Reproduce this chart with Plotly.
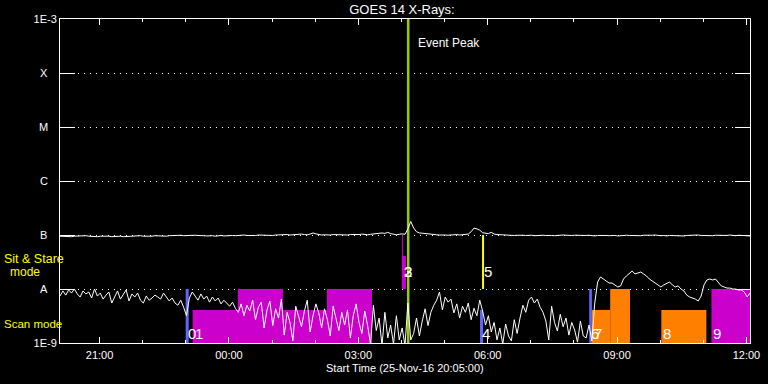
import plotly.graph_objects as go
import pandas as pd
import numpy as np

# ---------------- data ----------------
t_start = "2016-11-25 20:05:00"
t_end = "2016-11-26 12:05:00"
times = pd.date_range(t_start, t_end, freq="4min")   # GOES 4-minute cadence, 241 samples

# 1-8 A channel, units of 1e-9 W/m^2
long_nw = [
    95, 94, 96, 95, 93, 95, 96, 94, 95, 97,
    95, 94, 96, 93, 95, 96, 94, 95, 93, 94,
    96, 95, 93, 94, 95, 96, 94, 95, 97, 95,
    94, 96, 95, 97, 96, 94, 96, 95, 97, 98,
    96, 97, 99, 97, 98, 96, 97, 99, 98, 96,
    97, 96, 98, 97, 95, 97, 98, 96, 97, 99,
    98, 97, 99, 98, 100, 98, 97, 99, 98, 100,
    99, 98, 100, 99, 98, 100, 101, 99, 100, 102,
    100, 101, 103, 105, 104, 102, 101, 104, 109, 105,
    102, 100, 101, 99, 100, 102, 101, 100, 102, 101,
    100, 102, 101, 103, 102, 104, 102, 101, 103, 105,
    104, 106, 109, 107, 112, 106, 103, 101, 103, 105,
    103, 130, 178, 135, 115, 109, 108, 106, 104, 103,
    102, 101, 100, 101, 100, 99, 101, 100, 102, 100,
    101, 102, 104, 115, 134, 130, 123, 110, 108, 106,
    112, 104, 102, 101, 100, 101, 99, 100, 98, 99,
    100, 99, 98, 100, 99, 97, 98, 100, 99, 98,
    99, 98, 97, 99, 98, 100, 99, 97, 98, 99,
    98, 99, 97, 98, 99, 97, 96, 98, 99, 97,
    98, 97, 99, 98, 96, 98, 97, 99, 98, 97,
    99, 98, 97, 99, 98, 97, 99, 100, 98, 97,
    98, 96, 98, 97, 99, 98, 97, 96, 98, 99,
    97, 98, 100, 98, 97, 99, 98, 97, 99, 98,
    97, 99, 98, 100, 98, 97, 99, 98, 97, 98,
    96,
]

# 0.5-4 A channel, units of 1e-9 W/m^2
short_nw = [
    7.4, 9.2, 7.7, 9.6, 8.4, 10.0, 8.1, 7.1, 9.2, 8.1,
    8.8, 6.8, 10.0, 7.4, 8.4, 6.5, 7.7, 8.8, 5.5, 7.4,
    9.2, 6.5, 7.7, 9.6, 6.0, 8.1, 7.1, 8.4, 6.2, 5.5,
    7.4, 6.2, 6.8, 7.7, 7.1, 6.5, 8.4, 7.1, 6.0, 6.8,
    5.5, 5.0, 6.2, 4.6, 3.2, 6.8, 8.8, 7.4, 6.2, 8.1,
    6.5, 7.4, 5.7, 7.1, 6.0, 6.8, 5.3, 6.2, 5.5, 4.8,
    5.7, 4.4, 3.7, 5.3, 3.2, 5.0, 3.9, 6.2, 2.7, 4.6,
    5.7, 1.9, 4.1, 6.0, 2.1, 4.3, 2.9, 6.5, 1.4, 3.7,
    2.4, 1.1, 4.8, 2.9, 2.0, 3.9, 6.2, 1.6, 3.2, 5.3,
    3.6, 1.9, 4.3, 2.7, 1.35, 4.8, 2.9, 1.7, 3.7, 2.15,
    4.1, 1.24, 3.2, 5.3, 2.4, 1.5, 3.9, 2.1, 0.95, 5.0,
    1.7, 2.9, 0.9, 3.7, 1.24, 2.15, 0.95, 3.2, 1.14, 1.9,
    0.9, 5.5, 1.14, 1.5, 2.9, 1.35, 2.55, 4.3, 2.1, 3.7,
    5.0, 6.2, 8.8, 4.1, 7.1, 5.7, 6.5, 3.6, 5.3, 2.9,
    4.8, 3.7, 5.5, 2.7, 4.4, 3.2, 6.2, 3.9, 2.15, 3.2,
    1.6, 2.4, 1.14, 1.9, 0.95, 2.25, 1.35, 1.09, 2.7, 1.5,
    2.9, 5.0, 3.7, 6.2, 7.1, 5.5, 6.5, 4.6, 3.7, 2.55,
    1.14, 4.8, 2.4, 1.67, 3.4, 2.0, 2.9, 1.4, 2.4, 1.74,
    1.04, 2.55, 1.35, 1.24, 2.15, 1.09, 5.5, 13.5, 16.7, 15.3,
    14.1, 12.9, 12.9, 11.9, 10.9, 11.4, 15.3, 17.4, 19.0, 21.5,
    19.0, 19.8, 20.6, 19.0, 17.4, 15.3, 14.1, 12.9, 11.9, 10.9,
    11.9, 12.9, 13.5, 11.9, 10.9, 11.4, 10.0, 9.2, 7.7, 7.1,
    6.8, 6.5, 6.0, 7.4, 11.9, 14.7, 15.3, 14.7, 15.3, 13.5,
    11.4, 10.9, 10.4, 10.4, 10.0, 10.0, 9.6, 9.6, 8.8, 7.1,
    8.4,
]

# observation blocks (rectangles in time x flux)
rect_start = ["2016-11-25 22:59:50", "2016-11-25 23:09:36", "2016-11-26 00:12:24",
              "2016-11-26 02:16:18", "2016-11-26 04:00:42", "2016-11-26 04:00:42",
              "2016-11-26 04:07:42", "2016-11-26 05:49:24", "2016-11-26 05:52:12",
              "2016-11-26 08:21:18", "2016-11-26 08:25:00", "2016-11-26 08:50:30",
              "2016-11-26 10:01:36", "2016-11-26 11:11:18"]
rect_end = ["2016-11-25 23:04:00", "2016-11-26 03:19:06", "2016-11-26 01:15:06",
            "2016-11-26 03:19:06", "2016-11-26 04:02:06", "2016-11-26 04:06:18",
            "2016-11-26 04:11:12", "2016-11-26 05:53:36", "2016-11-26 05:55:00",
            "2016-11-26 08:25:00", "2016-11-26 08:50:30", "2016-11-26 09:18:00",
            "2016-11-26 11:04:18", "2016-11-26 12:14:00"]
rect_lo = [1e-9, 1e-9, 1e-9, 1e-9, 1e-8, 1e-8, 1e-9, 1e-9, 1e-8, 1e-9, 1e-9, 1e-9, 1e-9, 1e-9]
rect_hi = [1e-8, 4.1e-9, 1e-8, 1e-8, 1e-7, 4.1e-8, 1e-3, 4.1e-9, 1e-7, 1e-8, 4.1e-9, 1e-8, 4.1e-9, 1e-8]
rect_color = ["#6464ff", "#cc00cc", "#cc00cc", "#cc00cc", "#cc00cc", "#cc00cc", "#99cc00",
              "#6464ff", "#ffff00", "#6464ff", "#ff8000", "#ff8000", "#ff8000", "#cc00cc"]

label_text = ["0", "1", "2", "3", "4", "5", "6", "7", "8", "9"]
label_time = ["2016-11-25 22:59:50", "2016-11-25 23:09:36", "2016-11-26 04:00:42",
              "2016-11-26 04:00:42", "2016-11-26 05:49:24", "2016-11-26 05:52:12",
              "2016-11-26 08:21:18", "2016-11-26 08:25:00", "2016-11-26 10:01:36",
              "2016-11-26 11:11:18"]
label_level = [1.53e-9, 1.53e-9, 2.1e-8, 2.1e-8, 1.53e-9, 2.1e-8, 1.53e-9, 1.53e-9, 1.53e-9, 1.53e-9]

event_peak_time = "2016-11-26 04:09:00"

level_vals = [1e-9, 1e-8, 1e-7, 1e-6, 1e-5, 1e-4, 1e-3]
level_text = ["1E-9", "A", "B", "C", "M", "X", "1E-3"]

# ---------------- figure ----------------
FONT = "Liberation Sans, Arial, DejaVu Sans"
fig = go.Figure()

for s, e, lo, hi, c in zip(rect_start, rect_end, rect_lo, rect_hi, rect_color):
    fig.add_trace(go.Scatter(x=[s, s, e, e, s], y=[lo, hi, hi, lo, lo], mode="lines",
                             fill="toself", fillcolor=c, line=dict(width=0),
                             hoverinfo="skip", showlegend=False))

scale = 1e-9
fig.add_trace(go.Scatter(x=times, y=[v * scale for v in long_nw], mode="lines",
                         line=dict(color="white", width=1), showlegend=False))
fig.add_trace(go.Scatter(x=times, y=[v * scale for v in short_nw], mode="lines",
                         line=dict(color="white", width=1), showlegend=False))

ann = []
for txt, t, lv in zip(label_text, label_time, label_level):
    ann.append(dict(x=t, y=np.log10(lv), xref="x", yref="y", text=txt, showarrow=False,
                    xanchor="left", yanchor="middle", font=dict(size=15, color="white", family=FONT)))

ann.append(dict(x=event_peak_time, y=np.log10(3.6e-4), xref="x", yref="y", text="Event Peak",
                showarrow=False, xanchor="left", yanchor="middle", xshift=8,
                font=dict(size=12, color="white", family=FONT)))

for v, txt in zip(level_vals[1:-1], level_text[1:-1]):
    ann.append(dict(x=-0.0232, y=np.log10(v), xref="paper", yref="y", text=txt, showarrow=False,
                    xanchor="center", yanchor="middle", font=dict(size=11, color="white", family=FONT)))

ann.append(dict(x=-0.0841, y=-7.444, xref="paper", yref="y", text="Sit & Stare", showarrow=False,
                xanchor="left", yanchor="middle", font=dict(size=12.5, color="#ffff00", family=FONT)))
ann.append(dict(x=-0.0514, y=-7.685, xref="paper", yref="y", text="mode", showarrow=False,
                xanchor="center", yanchor="middle", font=dict(size=12, color="#ffff00", family=FONT)))
ann.append(dict(x=-0.0841, y=-8.648, xref="paper", yref="y", text="Scan mode", showarrow=False,
                xanchor="left", yanchor="middle", font=dict(size=11.5, color="#ffff00", family=FONT)))
ann.append(dict(x=0.5, y=-0.0772, xref="paper", yref="paper", text="Start Time (25-Nov-16 20:05:00)",
                showarrow=False, xanchor="center", yanchor="middle",
                font=dict(size=11, color="white", family=FONT)))

fig.update_layout(
    template="none",
    width=768, height=384,
    margin=dict(l=60, r=18, t=19, b=41, pad=0, autoexpand=False),
    paper_bgcolor="black", plot_bgcolor="black",
    font=dict(family=FONT, size=11, color="white"),
    title=dict(text="GOES 14 X-Rays:", x=402 / 768, xref="container", xanchor="center",
               y=1 - 9 / 384, yref="container", yanchor="middle",
               font=dict(size=13, color="white", family=FONT)),
    annotations=ann,
    showlegend=False,
)

fig.update_xaxes(
    type="date", range=[t_start, t_end], automargin=False,
    showline=True, linecolor="white", linewidth=1, mirror="ticks",
    ticks="inside", ticklen=6, tickcolor="white", tickwidth=1,
    tick0="2016-11-25 21:00", dtick=3 * 3600000, tickformat="%H:%M",
    ticklabelstandoff=2,
    minor=dict(ticks="inside", ticklen=3, tickcolor="white", dtick=3600000,
               tick0="2016-11-25 21:00", showgrid=False),
    showgrid=False, zeroline=False,
    tickfont=dict(size=11, color="white", family=FONT),
)
fig.update_yaxes(
    type="log", range=[-9, -3], automargin=False,
    showline=True, linecolor="white", linewidth=1, mirror="ticks",
    ticks="inside", ticklen=15, tickcolor="white", tickwidth=1,
    tickmode="array", tickvals=level_vals,
    ticktext=[t if t.startswith("1E") else "" for t in level_text],
    showgrid=True, gridcolor="white", gridwidth=1, griddash="1px,5px",
    zeroline=False,
    tickfont=dict(size=11, color="white", family=FONT),
)

fig.write_html(
    "out.html",
    config={"displayModeBar": False},
    post_script="document.body.style.margin='0';document.body.style.background='black';",
)
